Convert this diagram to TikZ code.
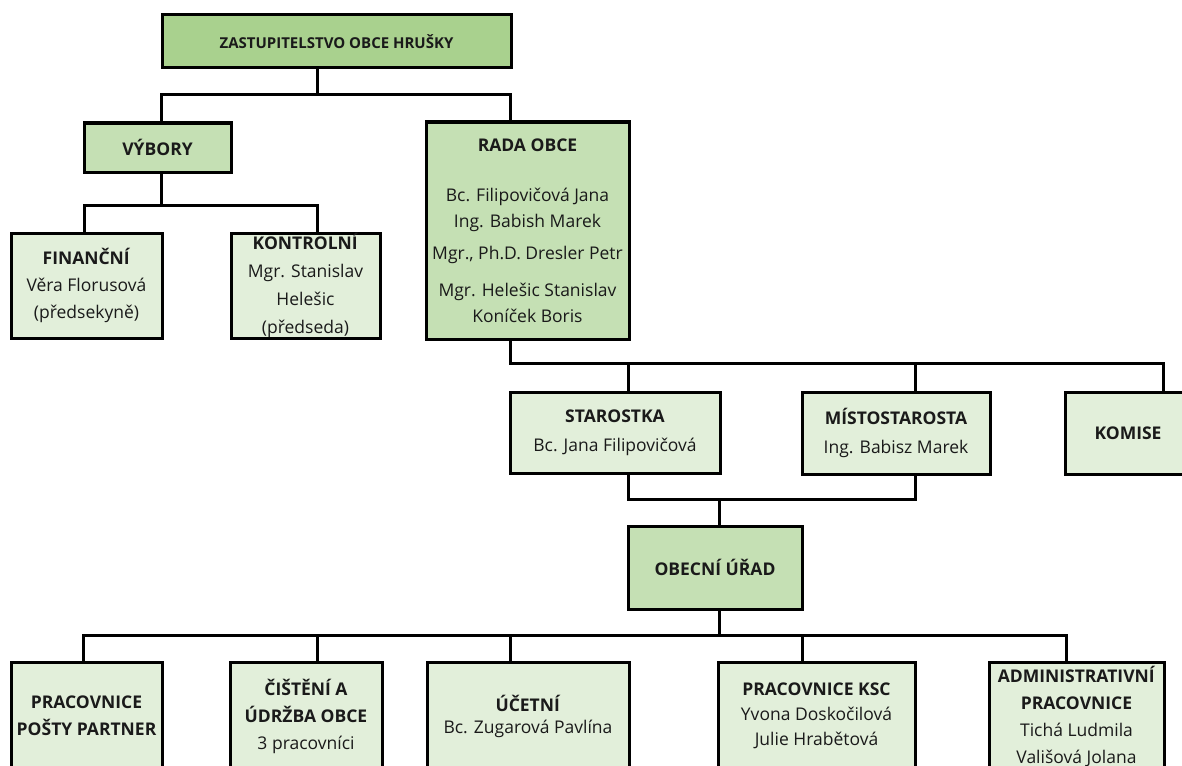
\documentclass[tikz,border=0pt]{standalone}
\usepackage{fontspec}
\setmainfont{Open Sans}
\definecolor{gdark}{HTML}{A9D18E}
\definecolor{gmid}{HTML}{C5E0B4}
\definecolor{glight}{HTML}{E2EFDA}
\definecolor{ink}{HTML}{1A1A1A}
\begin{document}
\begin{tikzpicture}[x=1pt,y=-1pt,
  box/.style={draw=black, line width=3pt, inner sep=0pt, align=center, text=ink,
    font=\fontsize{17.5}{27}\selectfont},
  dbox/.style={box, fill=gdark},
  mbox/.style={box, fill=gmid},
  lbox/.style={box, fill=glight},
  conn/.style={draw=black, line width=3pt}]
\clip (0,0) rectangle (1182,765);
\fill[white] (0,0) rectangle (1182,765);

% top level
\node[dbox, minimum width=349pt, minimum height=53pt, font=\fontsize{15}{18}\selectfont\bfseries] (zast) at (336.5,41.5) {ZASTUPITELSTVO OBCE HRUŠKY};
\node[mbox, minimum width=147pt, minimum height=49pt] (vyb) at (157.5,147.5) {\textbf{VÝBORY}};
\node[mbox, minimum width=203pt, minimum height=217pt, font=\fontsize{17.5}{26}\selectfont] (rada) at (527.5,230.5)
  {\textbf{RADA OBCE}\\[24pt] Bc. Filipovičová Jana\\ Ing. Babish Marek\\[6pt] Mgr., Ph.D. Dresler Petr\\[11pt] Mgr. Helešic Stanislav\\ Koníček Boris};
\node[lbox, minimum width=151pt, minimum height=105pt] (fin) at (86.5,285.5) {\textbf{FINANČNÍ}\\ Věra Florusová\\ (předsekyně)};
\node[lbox, minimum width=149pt, minimum height=105pt, font=\fontsize{17.5}{27.7}\selectfont] (kon) at (305.5,285.5) {\textbf{KONTROLNÍ}\\ Mgr. Stanislav\\ Helešic\\ (předseda)};

\node[lbox, minimum width=210pt, minimum height=81pt, font=\fontsize{17.5}{29}\selectfont] (star) at (615,432.5) {\textbf{STAROSTKA}\\ Bc. Jana Filipovičová};
\node[lbox, minimum width=188pt, minimum height=82pt, font=\fontsize{17.5}{29}\selectfont] (mist) at (896,433) {\textbf{MÍSTOSTAROSTA}\\ Ing. Babisz Marek};
\node[lbox, minimum width=126pt, minimum height=82pt] (kom) at (1128,433) {\textbf{KOMISE}};
\node[mbox, minimum width=174pt, minimum height=83pt] (urad) at (715,567.5) {\textbf{OBECNÍ ÚŘAD}};

% bottom row
\node[lbox, minimum width=151pt, minimum height=108pt] (posta) at (86.5,716) {\textbf{PRACOVNICE}\\ \textbf{POŠTY PARTNER}};
\node[lbox, minimum width=152pt, minimum height=108pt] (cist) at (306,716) {\textbf{ČIŠTĚNÍ A}\\ \textbf{ÚDRŽBA OBCE}\\ 3 pracovníci};
\node[lbox, minimum width=202pt, minimum height=108pt, font=\fontsize{17.5}{22}\selectfont] (uc) at (528,716) {\textbf{ÚČETNÍ}\\ Bc. Zugarová Pavlína};
\node[lbox, minimum width=197pt, minimum height=108pt, font=\fontsize{17.5}{25}\selectfont] (ksc) at (816.5,716) {\textbf{PRACOVNICE KSC}\\ Yvona Doskočilová\\ Julie Hrabětová};
\node[lbox, minimum width=175pt, minimum height=108pt] (adm) at (1076.5,716) {\textbf{ADMINISTRATIVNÍ}\\ \textbf{PRACOVNICE}\\ Tichá Ludmila\\ Vališová Jolana};

% bus coordinates
\coordinate (b1l) at (161,95);
\coordinate (b1m) at (317,95);
\coordinate (b1r) at (510,95);
\coordinate (b2l) at (84,205);
\coordinate (b2m) at (161,205);
\coordinate (b2r) at (317,205);
\coordinate (b3l) at (510,363);
\coordinate (b3a) at (628,363);
\coordinate (b3b) at (915,363);
\coordinate (b3r) at (1163,363);
\coordinate (b4l) at (628,499);
\coordinate (b4m) at (719,499);
\coordinate (b4r) at (915,499);
\coordinate (b5a) at (83,635);
\coordinate (b5b) at (317,635);
\coordinate (b5c) at (510,635);
\coordinate (b5m) at (719,635);
\coordinate (b5d) at (802,635);
\coordinate (b5e) at (1066,635);

% connectors
\draw[conn] (zast.south -| b1m) -- (b1m);
\draw[conn] (vyb.north -| b1l) -- (b1l) -- (b1r) -- (rada.north -| b1r);
\draw[conn] (vyb.south -| b2m) -- (b2m);
\draw[conn] (fin.north -| b2l) -- (b2l) -- (b2r) -- (kon.north -| b2r);
\draw[conn] (rada.south -| b3l) -- (b3l) -- (b3r) -- (kom.north -| b3r);
\draw[conn] (b3a) -- (star.north -| b3a);
\draw[conn] (b3b) -- (mist.north -| b3b);
\draw[conn] (star.south -| b4l) -- (b4l) -- (b4r) -- (mist.south -| b4r);
\draw[conn] (b4m) -- (urad.north -| b4m);
\draw[conn] (urad.south -| b5m) -- (b5m);
\draw[conn] (posta.north -| b5a) -- (b5a) -- (b5e) -- (adm.north -| b5e);
\draw[conn] (b5b) -- (cist.north -| b5b);
\draw[conn] (b5c) -- (uc.north -| b5c);
\draw[conn] (b5d) -- (ksc.north -| b5d);
\end{tikzpicture}
\end{document}
